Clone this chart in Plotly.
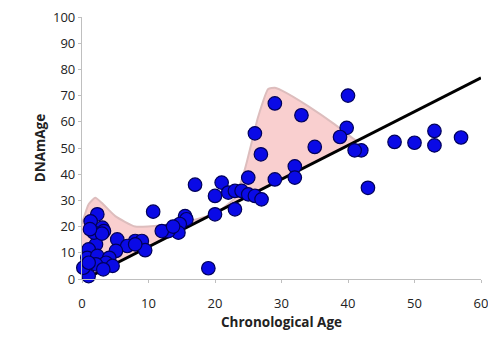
import plotly.graph_objects as go

# Scatter data (Chronological Age vs DNAmAge)
age = [57, 53, 53, 50, 47, 43, 42, 41, 40, 39.8, 38.8,
       35, 33, 29, 26, 26.9, 32, 32, 29, 25, 17, 21, 20, 22, 23, 24, 25, 26, 27,
       23, 20, 15.5, 10.7, 19, 15.7, 14.7, 14.5, 13, 12, 13.7,
       8, 9, 9.5,
       2.3, 1.3, 3.05, 2.1, 1, 0.8, 2.3, 5.3, 6.8, 5.1, 4.1, 3.6, 4.6, 2.1, 0.55,
       1, 8, 1.8, 3.3, 3.2, 0.2, 1, 3, 1.2]
dnam = [54, 56.5, 51, 52, 52.3, 34.8, 49.1, 49.1, 70, 57.7, 54.2,
        50.4, 62.5, 67, 55.6, 47.6, 43, 38.7, 38, 38.7, 36, 36.8, 31.7, 33, 33.6, 33.6, 32.3, 31.7, 30.4,
        26.6, 24.7, 24, 25.7, 4.1, 22.8, 21, 17.7, 18.3, 18.3, 20,
        14.5, 14.5, 11,
        24.7, 22, 19.6, 13.2, 11.3, 8.1, 8.8, 15.1, 12.6, 10.7, 8.1, 6.2, 5, 5.6, 5,
        1.1, 13.2, 17.7, 18.3, 3.7, 4.3, 6.2, 17.3, 19]

x_ticks = [0, 10, 20, 30, 40, 50, 60]
y_ticks = [0, 10, 20, 30, 40, 50, 60, 70, 80, 90, 100]

# Regression line
fit_x = [0, 60]
fit_y = [-0.6, 76.8]

# Shaded band: upper envelope
band_x = [0, 1, 2, 3, 5, 8, 12, 16, 20, 23, 24.5, 26.5, 28, 29, 30, 34, 38, 40, 41.5]
band_up = [21, 28.5, 31, 29, 24, 20, 20.5, 22, 25, 31, 42, 62, 72.5, 73, 72, 66, 59, 55, 52.5]

slope = (fit_y[1] - fit_y[0]) / (fit_x[1] - fit_x[0])
band_low = [max(0, fit_y[0] + slope * x) for x in band_x]

fig = go.Figure()

fig.add_trace(go.Scatter(
    x=band_x + band_x[::-1], y=band_up + band_low[::-1],
    fill="toself", fillcolor="#F9CFCF",
    line=dict(color="#DDBDBD", width=2, shape="spline", smoothing=0.5),
    mode="lines", hoverinfo="skip", showlegend=False))

fig.add_trace(go.Scatter(
    x=fit_x, y=fit_y, mode="lines",
    line=dict(color="black", width=3), showlegend=False))

fig.add_trace(go.Scatter(
    x=age, y=dnam, mode="markers", cliponaxis=False,
    marker=dict(size=13.5, color="#0A0AE6", line=dict(color="#00005A", width=1.2)),
    showlegend=False))

axis_font = dict(family="Open Sans, Lato, sans-serif", size=13, color="#222222")

fig.update_layout(
    width=488, height=335,
    margin=dict(l=74, r=15, t=9, b=64),
    paper_bgcolor="white", plot_bgcolor="white",
    xaxis=dict(range=[0, 60], tickvals=x_ticks, automargin=False,
               showgrid=False, zeroline=False, showline=True, linecolor="#BFBFBF",
               linewidth=1.2, ticks="outside", ticklen=12, tickcolor="rgba(255,255,255,0)",
               minor=dict(tickvals=x_ticks, ticks="outside", ticklen=3, tickcolor="#BFBFBF", showgrid=False),
               tickfont=axis_font, ticklabeloverflow="allow",
               title=dict(text="<b>Chronological Age</b>", font=dict(axis_font, size=13.5), standoff=6)),
    yaxis=dict(range=[0, 100], tickvals=y_ticks, automargin=False,
               showgrid=False, zeroline=False, showline=True, linecolor="#BFBFBF",
               linewidth=1.2, ticks="outside", ticklen=3, tickcolor="#BFBFBF",
               tickfont=axis_font, ticklabeloverflow="allow",
               title=dict(text="<b>DNAmAge</b>", font=dict(axis_font, size=13.5), standoff=4)),
)
fig.update_xaxes(tickprefix="<b>", ticksuffix="</b>")
fig.update_yaxes(tickprefix="<b>", ticksuffix="</b>\u00a0\u00a0")

fig.write_html("out.html")
